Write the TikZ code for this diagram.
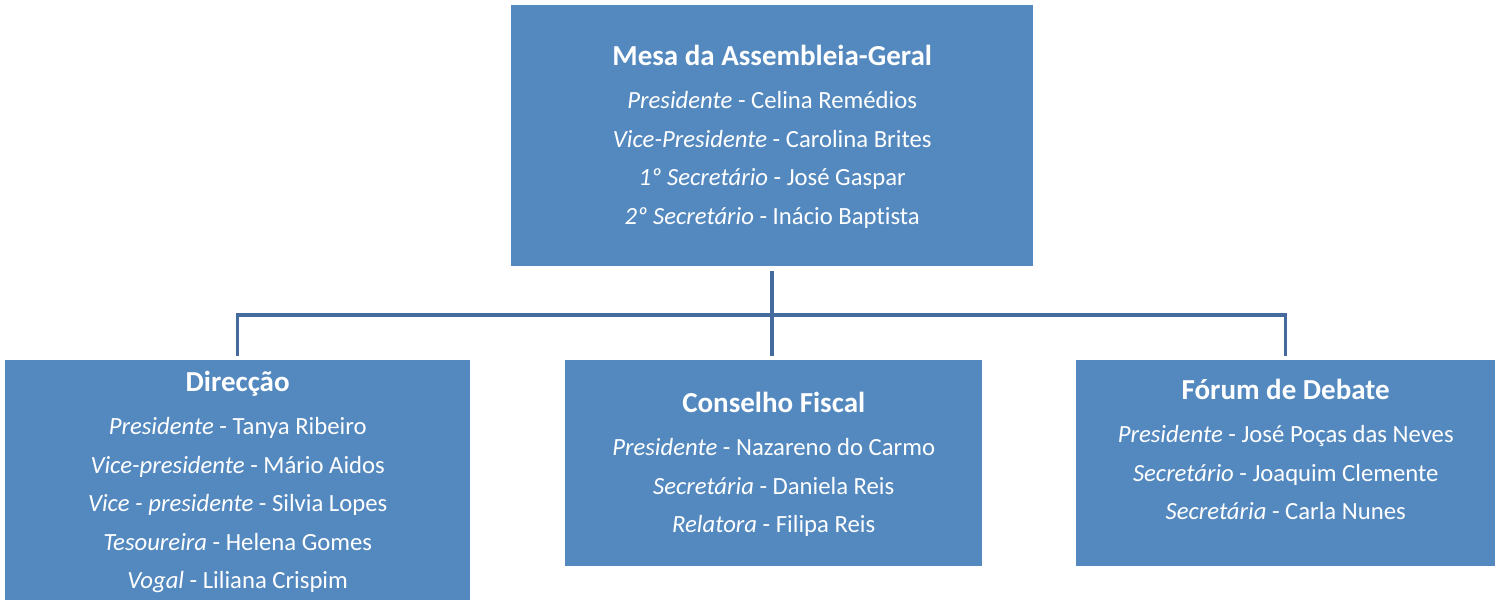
\documentclass[tikz,border=0pt]{standalone}
\usepackage{fontspec}
\setmainfont[Ligatures=CommonOff]{Carlito}
\usepackage{xcolor}
\usetikzlibrary{positioning, calc}
\definecolor{boxblue}{RGB}{84,137,192}
\definecolor{linkblue}{RGB}{68,106,158}

\begin{document}
\begin{tikzpicture}[x=1pt, y=-1pt,
  orgbox/.style={rectangle, fill=boxblue, inner sep=0pt, anchor=north west},
  orgtxt/.style={text=white, align=center, inner sep=0pt, font=\fontsize{24.7}{38.5}\selectfont},
  link/.style={draw=linkblue, line width=3.5pt}]
  \useasboundingbox (0,0) rectangle (1499,603);
  % boxes
  \node[orgbox, minimum width=522pt, minimum height=261pt] (mesa) at (511,5) {};
  \node[orgbox, minimum width=465pt, minimum height=240pt] (dir) at (5,360) {};
  \node[orgbox, minimum width=417pt, minimum height=206pt] (cons) at (565,360) {};
  \node[orgbox, minimum width=419pt, minimum height=206pt] (forum) at (1076,360) {};
  % texts
  \node[orgtxt] (mesa-t) at ([yshift=-1pt]mesa.center) {{\fontsize{29}{38.5}\selectfont\bfseries Mesa da Assembleia-Geral}\\[5pt]
    \textit{Presidente} - Celina Remédios\\
    \textit{Vice-Presidente} - Carolina Brites\\
    \textit{1º Secretário} - José Gaspar\\
    \textit{2º Secretário} - Inácio Baptista};
  \node[orgtxt] (dir-t) at ([yshift=-1.5pt]dir.center) {{\fontsize{29}{38.5}\selectfont\bfseries Direcção}\\[5pt]
    \textit{Presidente} - Tanya Ribeiro\\
    \textit{Vice-presidente} - Mário Aidos\\
    \textit{Vice - presidente} - Silvia Lopes\\
    \textit{Tesoureira} - Helena Gomes\\
    \textit{Vogal} - Liliana Crispim};
  \node[orgtxt] (cons-t) at ([yshift=-1pt]cons.center) {{\fontsize{29}{38.5}\selectfont\bfseries Conselho Fiscal}\\[5pt]
    \textit{Presidente} - Nazareno do Carmo\\
    \textit{Secretária} - Daniela Reis\\
    \textit{Relatora} - Filipa Reis};
  \node[orgtxt] (forum-t) at ([yshift=14pt]forum.center) {{\fontsize{29}{38.5}\selectfont\bfseries Fórum de Debate}\\[5pt]
    \textit{Presidente} - José Poças das Neves\\
    \textit{Secretário} - Joaquim Clemente\\
    \textit{Secretária} - Carla Nunes};
  % connectors
  \coordinate (hub) at (mesa.south |- 0,315);
  \draw[link] ([yshift=-5pt]mesa.south) -- (hub);
  \draw[link] ([yshift=4pt]dir.north) |- (hub) -| ([yshift=4pt]forum.north);
  \draw[link] (hub) -- ([yshift=4pt]hub |- cons.north);
\end{tikzpicture}
\end{document}
